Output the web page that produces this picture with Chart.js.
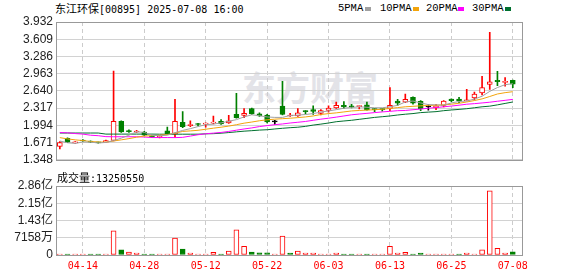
<!DOCTYPE html>
<html>
<head>
<meta charset="utf-8">
<script src="https://cdn.jsdelivr.net/npm/chart.js@4.4.0/dist/chart.umd.min.js"></script>
<style>
body { margin:0; background:#fff; width:578px; height:276px; overflow:hidden; position:relative; }
canvas { position:absolute; left:0; }
#kline { top:0; }
#vol { top:170px; }
.t { position:absolute; white-space:nowrap; color:#000; line-height:14px; }
.cjk { font-family:'Noto Sans CJK SC'; font-size:11px; }
.asc { font-family:'DejaVu Sans Mono'; font-size:10px; }
.lg { position:absolute; top:1px; line-height:14px; font-family:'Liberation Mono'; font-size:10.5px; color:#000; }
.sq { position:absolute; top:7px; width:6px; height:4px; }
#wm { position:absolute; left:242px; top:70px; font-family:'Noto Sans CJK SC'; font-weight:bold; font-size:34px; line-height:34px; color:#e3e3e8; white-space:nowrap; }
</style>
</head>
<body>
<div id="wm">东方财富</div>
<div class="t" style="left:55px;top:1px"><span class="cjk">东江环保</span><span class="asc">[00895] 2025-07-08 16:00</span></div>
<span class="lg" style="left:338px">5PMA</span><span class="sq" style="left:365px;background:#a0a0a0"></span>
<span class="lg" style="left:380px">10PMA</span><span class="sq" style="left:413px;background:#f2a40c"></span>
<span class="lg" style="left:426px">20PMA</span><span class="sq" style="left:458px;background:#ff00ff"></span>
<span class="lg" style="left:472px">30PMA</span><span class="sq" style="left:505px;background:#00702f"></span>
<div class="t" style="left:57px;top:170px;z-index:2"><span class="cjk">成交量</span><span class="asc">:13250550</span></div>
<canvas id="kline" width="578" height="170"></canvas>
<canvas id="vol" width="578" height="106"></canvas>
<script>
// trading days shown
const dates = ['04-09','04-10','04-11','04-14','04-15','04-16','04-17','04-22','04-23','04-24',
  '04-25','04-28','04-29','04-30','05-02','05-06','05-07','05-08','05-09','05-12',
  '05-13','05-14','05-15','05-16','05-19','05-20','05-21','05-22','05-23','05-26',
  '05-27','05-28','05-29','05-30','06-02','06-03','06-04','06-05','06-06','06-09',
  '06-10','06-11','06-12','06-13','06-16','06-17','06-18','06-19','06-20','06-23',
  '06-24','06-25','06-26','06-27','06-30','07-02','07-03','07-04','07-07','07-08'];
const tickIdx = [3, 11, 19, 27, 35, 43, 51, 59];

const openP = [1.60,1.75,1.665,1.72,1.70,1.675,1.68,1.71,2.07,1.88,
  1.87,1.87,1.79,1.77,1.89,1.83,2.05,1.99,2.02,2.015,
  2.035,2.07,2.04,2.20,2.18,2.31,2.21,2.185,2.06,2.355,
  2.17,2.17,2.265,2.29,2.22,2.275,2.32,2.37,2.36,2.345,
  2.38,2.30,2.30,2.31,2.45,2.43,2.52,2.445,2.34,2.32,
  2.37,2.485,2.485,2.455,2.51,2.60,2.763,2.84,2.80,2.84];
const highP = [1.69,1.76,1.69,1.725,1.705,1.68,1.72,3.01,2.08,1.91,
  1.90,1.88,1.80,1.80,1.96,2.48,2.25,2.08,2.03,2.04,
  2.17,2.10,2.18,2.595,2.31,2.32,2.23,2.20,2.09,2.82,
  2.22,2.31,2.27,2.36,2.29,2.36,2.43,2.44,2.39,2.36,
  2.43,2.31,2.305,2.70,2.48,2.58,2.53,2.46,2.38,2.39,
  2.46,2.49,2.52,2.67,2.62,2.915,3.74,3.005,2.89,2.845];
const lowP = [1.55,1.67,1.655,1.695,1.675,1.66,1.67,1.70,1.86,1.86,
  1.86,1.80,1.77,1.76,1.83,1.77,1.95,1.97,1.99,1.96,
  2.02,2.01,2.03,2.13,2.14,2.20,2.16,2.04,2.01,2.19,
  2.16,2.16,2.21,2.20,2.19,2.24,2.31,2.31,2.32,2.30,
  2.28,2.25,2.26,2.27,2.37,2.42,2.39,2.27,2.28,2.29,
  2.34,2.44,2.42,2.45,2.47,2.565,2.67,2.74,2.73,2.70];
const closeP = [1.673,1.68,1.68,1.70,1.68,1.665,1.71,2.07,1.87,1.875,
  1.885,1.81,1.78,1.79,1.835,2.07,1.97,2.01,2.01,2.035,
  2.055,2.02,2.08,2.14,2.22,2.21,2.17,2.06,2.06,2.20,
  2.18,2.23,2.25,2.255,2.27,2.32,2.37,2.34,2.335,2.356,
  2.285,2.29,2.29,2.37,2.41,2.48,2.41,2.30,2.34,2.36,
  2.45,2.455,2.45,2.474,2.58,2.70,2.81,2.815,2.82,2.765];

const ma5 = [1.700,1.668,1.655,1.682,1.679,1.664,1.673,1.709,1.754,1.809,
  1.872,1.863,1.809,1.800,1.809,1.857,1.899,1.932,1.971,2.007,
  2.017,2.040,2.071,2.101,2.152,2.192,2.174,2.152,2.143,2.143,
  2.179,2.186,2.197,2.215,2.242,2.264,2.288,2.315,2.329,2.342,
  2.333,2.324,2.324,2.342,2.369,2.432,2.450,2.414,2.383,2.378,
  2.372,2.414,2.441,2.450,2.486,2.540,2.631,2.703,2.757,2.775];
const ma10 = [1.764,1.740,1.722,1.709,1.691,1.682,1.679,1.700,1.722,1.745,
  1.772,1.794,1.800,1.809,1.821,1.848,1.880,1.890,1.901,1.921,
  1.941,1.959,1.980,2.006,2.035,2.056,2.080,2.098,2.110,2.119,
  2.128,2.139,2.152,2.170,2.197,2.215,2.228,2.246,2.264,2.273,
  2.280,2.287,2.296,2.311,2.327,2.342,2.351,2.360,2.367,2.372,
  2.378,2.390,2.408,2.432,2.459,2.490,2.535,2.582,2.607,2.625];
const ma20 = [1.859,1.854,1.840,1.830,1.809,1.800,1.782,1.780,1.780,1.780,
  1.780,1.775,1.765,1.765,1.765,1.764,1.769,1.793,1.818,1.836,
  1.848,1.861,1.880,1.903,1.926,1.946,1.971,1.989,2.007,2.020,
  2.038,2.052,2.067,2.089,2.110,2.128,2.148,2.170,2.192,2.206,
  2.219,2.233,2.246,2.257,2.269,2.273,2.287,2.300,2.315,2.327,
  2.342,2.356,2.372,2.390,2.401,2.414,2.428,2.446,2.463,2.481];
const ma30 = [1.850,1.850,1.850,1.850,1.850,1.850,1.830,1.830,1.830,1.830,
  1.830,1.830,1.830,1.828,1.828,1.828,1.828,1.828,1.828,1.835,
  1.838,1.847,1.859,1.872,1.885,1.894,1.905,1.912,1.926,1.939,
  1.950,1.959,1.975,1.999,2.017,2.038,2.062,2.076,2.089,2.107,
  2.125,2.143,2.156,2.170,2.188,2.203,2.215,2.233,2.242,2.251,
  2.269,2.282,2.293,2.306,2.324,2.342,2.354,2.378,2.405,2.432];

const volume = [3e6,3e6,3e6,3e6,3e6,3e6,3e6,1.0e8,2.1e7,1.2e7,
  8e6,4e6,4e6,3e6,3e6,7.0e7,2.5e7,8e6,3e6,3e6,
  1.1e7,3e6,1.6e7,1.04e8,3.6e7,1.2e7,9e6,9e6,3e6,7.9e7,
  8e6,1.6e7,8e6,8e6,3e6,3e6,8e6,3e6,3e6,3e6,
  3e6,3e6,3e6,3.6e7,8e6,1.1e7,3e6,8e6,3e6,3e6,
  3e6,3e6,3e6,8e6,3e6,2.1e7,2.66e8,2.8e7,8e6,13250550];
// 1 = closed up vs previous day (red), 0 = down (green)
const volUp = [1,0,1,1,0,0,1,1,0,1, 1,0,0,1,1,1,0,1,1,1, 1,0,1,1,1,0,0,0,1,1,
  0,1,1,1,1,1,1,0,0,1, 0,1,1,1,1,1,0,0,1,1, 1,1,0,1,1,1,1,1,1,0];

const priceTicks = [1.348, 1.671, 1.994, 2.317, 2.640, 2.963, 3.286, 3.609, 3.932];
const volTicks = [0, 71580000, 143160000, 214740000, 286320000];

const RED = '#ff0000', GREEN = '#008000';
const lineCol = candle => closeP[candle] > openP[candle] ? RED : (closeP[candle] < openP[candle] ? GREEN : '#000');
const candleCol = dates.map((d, i) => lineCol(i));
const candleFill = dates.map((d, i) => closeP[i] > openP[i] ? '#ffffff' : candleCol[i]);

const frame = {
  id: 'frame',
  afterDraw(c) {
    const a = c.chartArea, g = c.ctx;
    g.save();
    g.strokeStyle = '#999';
    g.lineWidth = 1;
    g.strokeRect(Math.round(a.left) + 0.5, Math.round(a.top) + 0.5,
      Math.round(a.right - a.left), Math.round(a.bottom - a.top));
    g.restore();
  }
};

function xAxis(showLabels) {
  return {
    type: 'linear', min: -0.5, max: 60.2, offset: false,
    afterBuildTicks: s => { s.ticks = tickIdx.map(v => ({ value: v })); },
    afterFit: s => { s.height = showLabels ? 21 : 0; },
    grid: { color: '#cccccc', drawTicks: false, offset: false },
    border: { display: false, dash: [4, 3] },
    ticks: {
      display: showLabels, autoSkip: false, maxRotation: 0, padding: 5,
      color: '#ff0000', font: { family: 'DejaVu Sans Mono', size: 10 },
      callback: v => dates[v]
    }
  };
}

function yAxis(min, max, list, fmt, family) {
  return {
    min: min, max: max,
    afterBuildTicks: s => { s.ticks = list.map(v => ({ value: v })); },
    afterFit: s => { s.width = 56; },
    grid: { color: '#d2d2d2', drawTicks: false },
    border: { display: false },
    ticks: {
      autoSkip: false, padding: 3, color: '#222',
      font: { family: family, size: 12 },
      callback: v => fmt(v)
    }
  };
}

const lines = [[ma5, '#a0a0a0'], [ma10, '#f2a40c'], [ma20, '#ff00ff'], [ma30, '#00702f']];

new Chart(document.getElementById('kline'), {
  type: 'bar',
  data: {
    datasets: [
      {
        data: dates.map((d, i) => ({ x: i, y: [lowP[i], highP[i]] })),
        backgroundColor: candleCol, borderWidth: 0,
        barThickness: 1, grouped: false, order: 3
      },
      {
        data: dates.map((d, i) => ({ x: i, y: [openP[i], closeP[i]] })),
        backgroundColor: candleFill, borderColor: candleCol, borderWidth: 1,
        borderSkipped: false, barThickness: 5, minBarLength: 1, grouped: false, order: 2
      },
      ...lines.map(([arr, col]) => ({
        type: 'line',
        data: arr.map((v, i) => ({ x: i, y: v })),
        borderColor: col, borderWidth: 1, pointRadius: 0, tension: 0, order: 1
      }))
    ]
  },
  options: {
    responsive: false, animation: false,
    layout: { padding: { top: 22, right: 56, bottom: 5, left: 0 } },
    plugins: { legend: { display: false }, tooltip: { enabled: false } },
    scales: {
      x: xAxis(false),
      y: yAxis(1.348, 3.932, priceTicks, v => v.toFixed(3), 'Liberation Sans')
    }
  },
  plugins: [frame]
});

function fmtVol(v) {
  if (v === 0) return '0';
  if (v >= 1e8) return (v / 1e8).toFixed(2) + '亿';
  return Math.round(v / 1e4) + '万';
}

new Chart(document.getElementById('vol'), {
  type: 'bar',
  data: {
    datasets: [{
      data: volume.map((v, i) => ({ x: i, y: v })),
      backgroundColor: volUp.map(u => u ? '#ffffff' : GREEN),
      borderColor: volUp.map(u => u ? RED : GREEN),
      borderWidth: 1, borderSkipped: false,
      barThickness: 5, minBarLength: 1, grouped: false
    }]
  },
  options: {
    responsive: false, animation: false,
    layout: { padding: { top: 16, right: 56, bottom: 0, left: 0 } },
    plugins: { legend: { display: false }, tooltip: { enabled: false } },
    scales: {
      x: xAxis(true),
      y: yAxis(0, 286320000, volTicks, fmtVol, "'Liberation Sans','Noto Sans CJK SC'")
    }
  },
  plugins: [frame]
});
</script>
</body>
</html>
